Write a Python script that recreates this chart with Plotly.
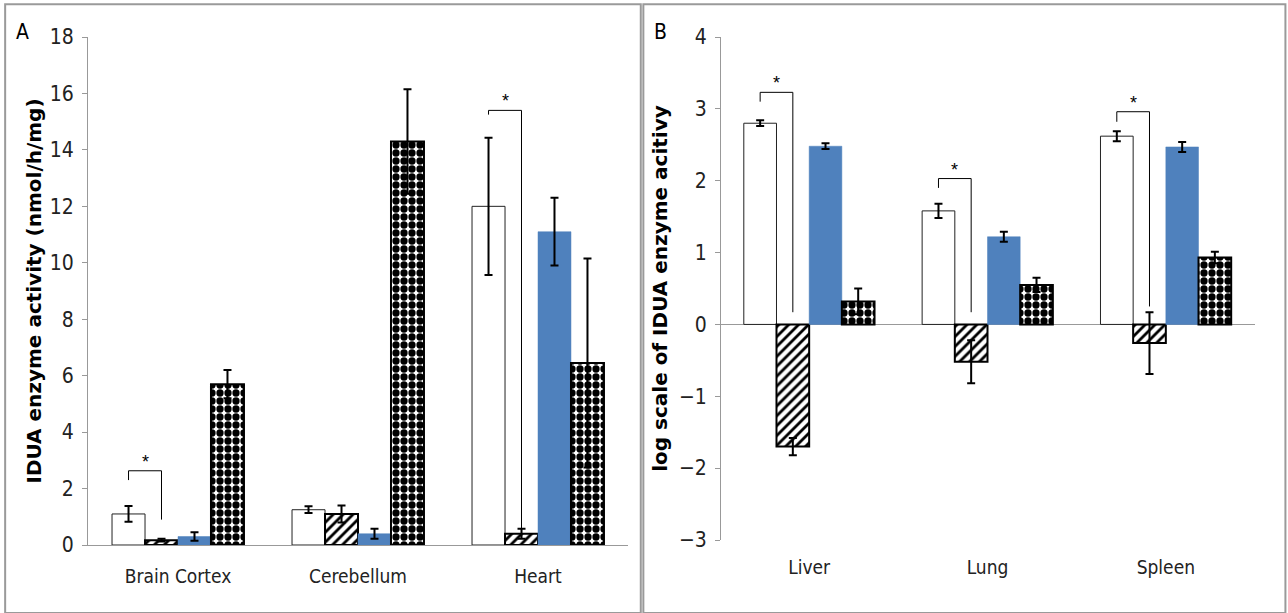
import plotly.graph_objects as go

# ---------------- data ----------------
cats_a = ["Brain Cortex", "Cerebellum", "Heart"]
white_a = [1.1, 1.25, 12.0]
white_a_err = [0.28, 0.12, 2.43]
hatch_a = [0.17, 1.1, 0.4]
hatch_a_err = [0.05, 0.3, 0.18]
blue_a = [0.3, 0.4, 11.1]
blue_a_err = [0.15, 0.18, 1.2]
diam_a = [5.7, 14.3, 6.45]
diam_a_err = [0.5, 1.85, 3.7]

cats_b = ["Liver", "Lung", "Spleen"]
white_b = [2.8, 1.58, 2.62]
white_b_err = [0.04, 0.1, 0.07]
hatch_b = [-1.7, -0.52, -0.26]
hatch_b_err = [0.12, 0.3, 0.43]
blue_b = [2.48, 1.22, 2.47]
blue_b_err = [0.04, 0.07, 0.07]
diam_b = [0.32, 0.55, 0.93]
diam_b_err = [0.18, 0.1, 0.08]

yticks_a = [0, 2, 4, 6, 8, 10, 12, 14, 16, 18]
yticks_b = [-3, -2, -1, 0, 1, 2, 3, 4]

# significance brackets: (category index, bracket top, left end, right end)
sig_a = [(0, 2.63, 2.3, 0.9), (2, 15.4, 15.25, 0.6)]
sig_b = [(0, 3.23, 3.1, 0.17), (1, 2.03, 1.9, 0.17), (2, 2.96, 2.82, 0.25)]

BLUE = "#4F81BD"
BARGAP = 0.267
W = (1 - BARGAP) / 4
NARROW = "Liberation Sans Narrow, DejaVu Sans Condensed, Liberation Sans"

fig = go.Figure()

def add_group(cats, vals, errs, xa, ya):
    styles = [
        dict(color="white", line=dict(color="#222", width=1)),
        dict(color="white", line=dict(color="black", width=2),
             pattern=dict(shape="/", fgcolor="black", bgcolor="white", fgopacity=1,
                          size=7, solidity=0.4)),
        dict(color=BLUE, line=dict(color=BLUE, width=0.5)),
        dict(color="white", line=dict(color="black", width=2),
             pattern=dict(shape=".", fgcolor="black", bgcolor="white", fgopacity=1,
                          size=8, solidity=0.65)),
    ]
    for v, e, s in zip(vals, errs, styles):
        fig.add_trace(go.Bar(
            x=cats, y=v, marker=s, xaxis=xa, yaxis=ya, showlegend=False,
            error_y=dict(type="data", array=e, color="black", thickness=2, width=4),
        ))

add_group(cats_a, [white_a, hatch_a, blue_a, diam_a],
          [white_a_err, hatch_a_err, blue_a_err, diam_a_err], "x", "y")
add_group(cats_b, [white_b, hatch_b, blue_b, diam_b],
          [white_b_err, hatch_b_err, blue_b_err, diam_b_err], "x2", "y2")

shapes = []
annotations = []
def add_brackets(sig, xr, yr):
    for ci, top, le, re in sig:
        xl = ci - 1.5 * W
        xr_ = ci - 0.5 * W
        shapes.append(dict(type="path", xref=xr, yref=yr,
                           path=f"M {xl} {le} L {xl} {top} L {xr_} {top} L {xr_} {re}",
                           line=dict(color="black", width=1)))
        annotations.append(dict(x=(xl + xr_) / 2, y=top, xref=xr, yref=yr, text="*",
                                showarrow=False, yanchor="bottom", yshift=-3,
                                font=dict(size=18, color="black", family="Liberation Sans")))

add_brackets(sig_a, "x", "y")
add_brackets(sig_b, "x2", "y2")

# panel borders
shapes.append(dict(type="rect", xref="paper", yref="paper", x0=0.004, x1=0.4975, y0=0.0, y1=0.993,
                   line=dict(color="#9a9a9a", width=2)))
shapes.append(dict(type="rect", xref="paper", yref="paper", x0=0.4995, x1=0.998, y0=0.0, y1=0.993,
                   line=dict(color="#9a9a9a", width=2)))

annotations.append(dict(x=14 / 1288, y=1 - 18 / 613, xref="paper", yref="paper", text="A",
                        xanchor="left", yanchor="top", showarrow=False,
                        font=dict(size=21, family=NARROW, color="black")))
annotations.append(dict(x=652 / 1288, y=1 - 18 / 613, xref="paper", yref="paper", text="B",
                        xanchor="left", yanchor="top", showarrow=False,
                        font=dict(size=21, family=NARROW, color="black")))

tickfont = dict(size=21, family=NARROW, color="#222")
catfont = dict(size=19, family=NARROW, color="#222")
titlefont = dict(size=20, family="DejaVu Sans", color="black", weight="bold")

fig.update_layout(
    template="none",
    width=1288, height=613,
    margin=dict(l=0, r=0, t=0, b=0, autoexpand=False),
    paper_bgcolor="white", plot_bgcolor="white",
    barmode="group", bargap=BARGAP, bargroupgap=0,
    shapes=shapes, annotations=annotations,
    xaxis=dict(domain=[88 / 1288, 628 / 1288], anchor="y", showline=True, linecolor="#999",
               linewidth=1, ticks="", tickfont=catfont, ticklabelstandoff=14, automargin=False,
               showgrid=False),
    yaxis=dict(domain=[1 - 545 / 613, 1 - 37 / 613], anchor="x", range=[0, 18], tickvals=yticks_a,
               showline=True, linecolor="#999", linewidth=1, ticks="outside", ticklen=5, tickcolor="#999",
               showgrid=False, zeroline=False, tickfont=tickfont, ticklabelstandoff=4,
               automargin=False,
               title=dict(text="IDUA enzyme activity (nmol/h/mg)", font=titlefont, standoff=2)),
    xaxis2=dict(domain=[720 / 1288, 1255 / 1288], anchor="y2", showline=False, ticks="",
                tickfont=catfont, ticklabelposition="outside", ticklabelstandoff=14,
                automargin=False, showgrid=False),
    yaxis2=dict(domain=[1 - 540 / 613, 1 - 37 / 613], anchor="free", position=720 / 1288, range=[-3, 4],
                tickvals=yticks_b, showline=True, linecolor="#999", linewidth=1, ticks="outside",
                ticklen=5, tickcolor="#999", showgrid=False, zeroline=True, zerolinecolor="#999",
                zerolinewidth=1, tickfont=tickfont, ticklabelstandoff=4, automargin=False,
                title=dict(text="log scale of IDUA enzyme acitivy", font=titlefont, standoff=4)),
)

fig.write_html("out.html", config={"displayModeBar": False},
               post_script="document.body.style.margin='0';")
